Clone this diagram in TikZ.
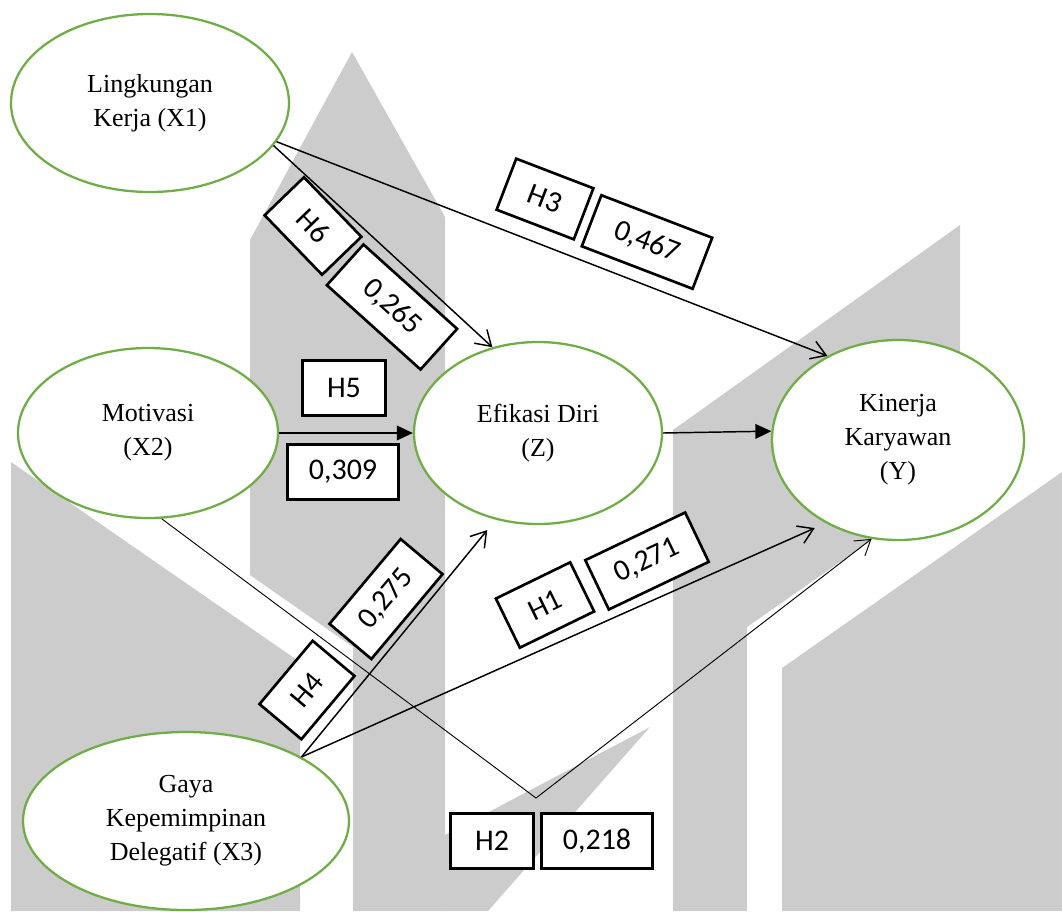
\documentclass[tikz,border=0pt]{standalone}
\usepackage{fontspec}
\setmainfont{Liberation Serif}
\newfontfamily\calib{Carlito}
\usetikzlibrary{arrows.meta,shapes.geometric}
\definecolor{ellgreen}{RGB}{112,173,71}
\definecolor{wmgray}{RGB}{204,204,204}

\begin{document}
\begin{tikzpicture}[x=0.75pt,y=-0.75pt,
	latent/.style={ellipse, draw=ellgreen, line width=1.7pt, fill=white, align=center, inner sep=0pt, font=\fontsize{19.5}{25.5}\selectfont},
	hyp/.style={draw, line width=2pt, fill=white, minimum width=62pt, minimum height=41pt, inner sep=0pt, font=\calib\fontsize{22.5}{26}\selectfont},
	coef/.style={hyp, minimum width=83pt},
	path/.style={line width=1.1pt, -{Straight Barb[length=11pt,width=14pt]}},
	direct/.style={line width=1.1pt, -{Triangle[length=12pt,width=11pt]}}]
\useasboundingbox (0,0) rectangle (1062,911);

% watermark
\fill[wmgray] (11,462) -- (300,662) -- (300,911) -- (11,911) -- cycle;
\fill[wmgray] (250,240) -- (352,52) -- (445,217) -- (445,911) -- (353,911) -- (353,647) -- (250,575) -- cycle;
\fill[wmgray] (445,835) -- (650,727) -- (488,911) -- (445,911) -- cycle;
\fill[wmgray] (673,430) -- (960,225) -- (960,478) -- (747,627) -- (747,911) -- (673,911) -- cycle;
\fill[wmgray] (782,668) -- (1062,472) -- (1062,911) -- (782,911) -- cycle;

\node[latent, minimum width=208.5pt, minimum height=133.5pt] (x1) at (150,103) {Lingkungan\\Kerja (X1)};
\node[latent, minimum width=195pt, minimum height=127.5pt] (x2) at (148,433) {Motivasi\\(X2)};
\node[latent, minimum width=186pt, minimum height=136.5pt] (z) at (538,433) {Efikasi Diri\\(Z)};
\node[latent, minimum width=189pt, minimum height=150pt] (y) at (898,440) {Kinerja\\Karyawan\\(Y)};
\node[latent, minimum width=244.5pt, minimum height=133.5pt] (x3) at (186,821) {Gaya\\Kepemimpinan\\Delegatif (X3)};

\draw[path] (x1.-19) -- (z.118);
\draw[path] (x1.-17) -- (y.130);
\draw[direct] (x2.east) -- (z.west);
\draw[direct] (z.east) -- (y.176);
\draw[path, shorten >=10pt] (x3.29) -- (z.244);
\draw[path, shorten >=9pt] (x3.29) -- (y.229);
\coordinate (bend) at (536,798);
\draw[path, line width=0.7pt] (x2.279) -- (bend) -- (y.255);

\foreach \n/\p/\a in {1/{545,605}/26, 2/{492,841}/0, 3/{545,199}/-21, 4/{307,690}/50, 5/{344,388}/0, 6/{313,226}/-46}
	\node[hyp, rotate=\a] (h\n) at (\p) {H\n};

\node[coef, rotate=25.5] (c1) at (647,561) {0,271};
\node[coef] (c2) at (597,841) {0,218};
\node[coef, rotate=-21, minimum width=89pt] (c3) at (647,242) {0,467};
\node[coef, rotate=50] (c4) at (386,599) {0,275};
\node[coef] (c5) at (343,472) {0,309};
\node[coef, rotate=-42, minimum width=94.5pt] (c6) at (392,307) {0,265};

\end{tikzpicture}
\end{document}
